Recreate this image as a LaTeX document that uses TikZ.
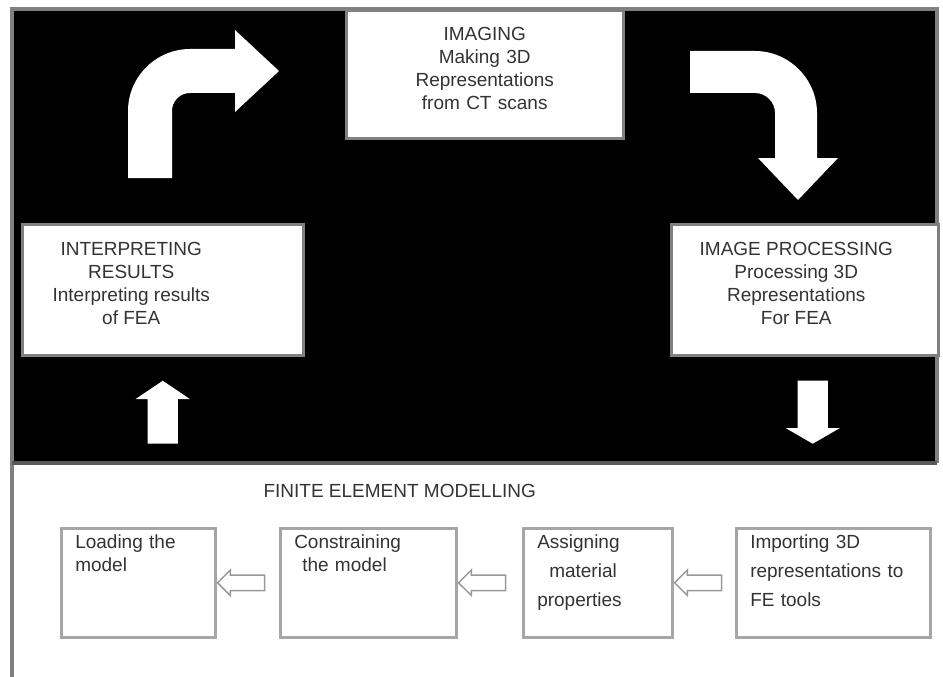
\documentclass[tikz,border=0pt]{standalone}
\usepackage{fontspec}
\newfontfamily\labelfont{Liberation Sans}
\usetikzlibrary{shapes.arrows}
\begin{document}
\begin{tikzpicture}[x=1pt, y=-1pt,
    every node/.style={font=\labelfont\fontsize{19}{23}\selectfont, text=black!80},
    panel/.style={draw=black!50, line width=2.5pt, fill=white, anchor=north west, inner xsep=8pt, text height=14pt, text depth=83pt},
    stage/.style={draw=black!35, line width=2.5pt, fill=white, anchor=north west, inner xsep=14pt, inner ysep=6pt, align=left, text height=14pt, text depth=83pt},
    blockarrow/.style={single arrow, fill=white, draw=none, inner sep=15pt, single arrow head extend=12pt, minimum height=63pt},
    hollowarrow/.style={single arrow, fill=white, draw=black!40, line width=1.5pt, inner sep=7pt, single arrow head extend=5pt, minimum height=47pt, shape border rotate=180}]
    \useasboundingbox (0,0) rectangle (943,677);
    \fill[black] (12,9) rectangle (937,463);
    \draw[black!50, line width=4pt] (12,700) -- (12,9) -- (937,9) -- (937,463);
    \draw[black!65, line width=4pt] (12,463) -- (937,463);

    \node[panel, inner ysep=15pt, text width=261pt, align=center] (imaging) at (345,10) {IMAGING\\Making 3D\\Representations\\from CT scans};
    \node[panel, inner ysep=17pt] (interp) at (21,223) {\parbox[t]{202pt}{\centering INTERPRETING\\RESULTS\\Interpreting results\\of FEA}\hspace*{63pt}};
    \node[panel, inner ysep=17pt] (imgproc) at (670,223) {\parbox[t]{234pt}{\centering IMAGE PROCESSING\\Processing 3D\\Representations\\For FEA}\hspace*{17pt}};

    \fill[white] (128,178) -- (128,111) .. controls (128,77) and (156,49) .. (190,49) -- (235,49) -- (235,30) -- (279,71) -- (235,112) -- (235,93) -- (190,93) .. controls (180,93) and (172,101) .. (172,111) -- (172,178) -- cycle;
    \fill[white] (690,51) -- (755,51) .. controls (789,51) and (817,79) .. (817,113) -- (817,158) -- (838,158) -- (798,200) -- (758,158) -- (775,158) -- (775,113) .. controls (775,102) and (766,93) .. (755,93) -- (690,93) -- cycle;
    \node[blockarrow, shape border rotate=90, single arrow tip angle=112, anchor=tip] (up) at ([yshift=-24pt]interp.south) {};
    \node[blockarrow, shape border rotate=270, single arrow tip angle=120, anchor=tail] (down) at ([xshift=8pt, yshift=-24pt]imgproc.south) {};

    \node[anchor=base west] (fem) at (260,497) {FINITE ELEMENT MODELLING};
    \node[stage, text width=126pt] (load) at (60,527) {Loading the\\model};
    \node[stage, text width=148pt] (constrain) at (279,527) {Constraining\\\hspace*{8pt}the model};
    \node[stage, text width=121pt, font=\labelfont\fontsize{19}{29}\selectfont] (assign) at (522,527) {Assigning\\\hspace*{12pt}material\\properties};
    \node[stage, text width=166pt, font=\labelfont\fontsize{19}{29}\selectfont] (import) at (735,527) {Importing 3D\\representations to\\FE tools};
    \node[hollowarrow, anchor=tip] (a1) at (load.east) {};
    \node[hollowarrow, anchor=tip] (a2) at (constrain.east) {};
    \node[hollowarrow, anchor=tip] (a3) at (assign.east) {};
\end{tikzpicture}
\end{document}
